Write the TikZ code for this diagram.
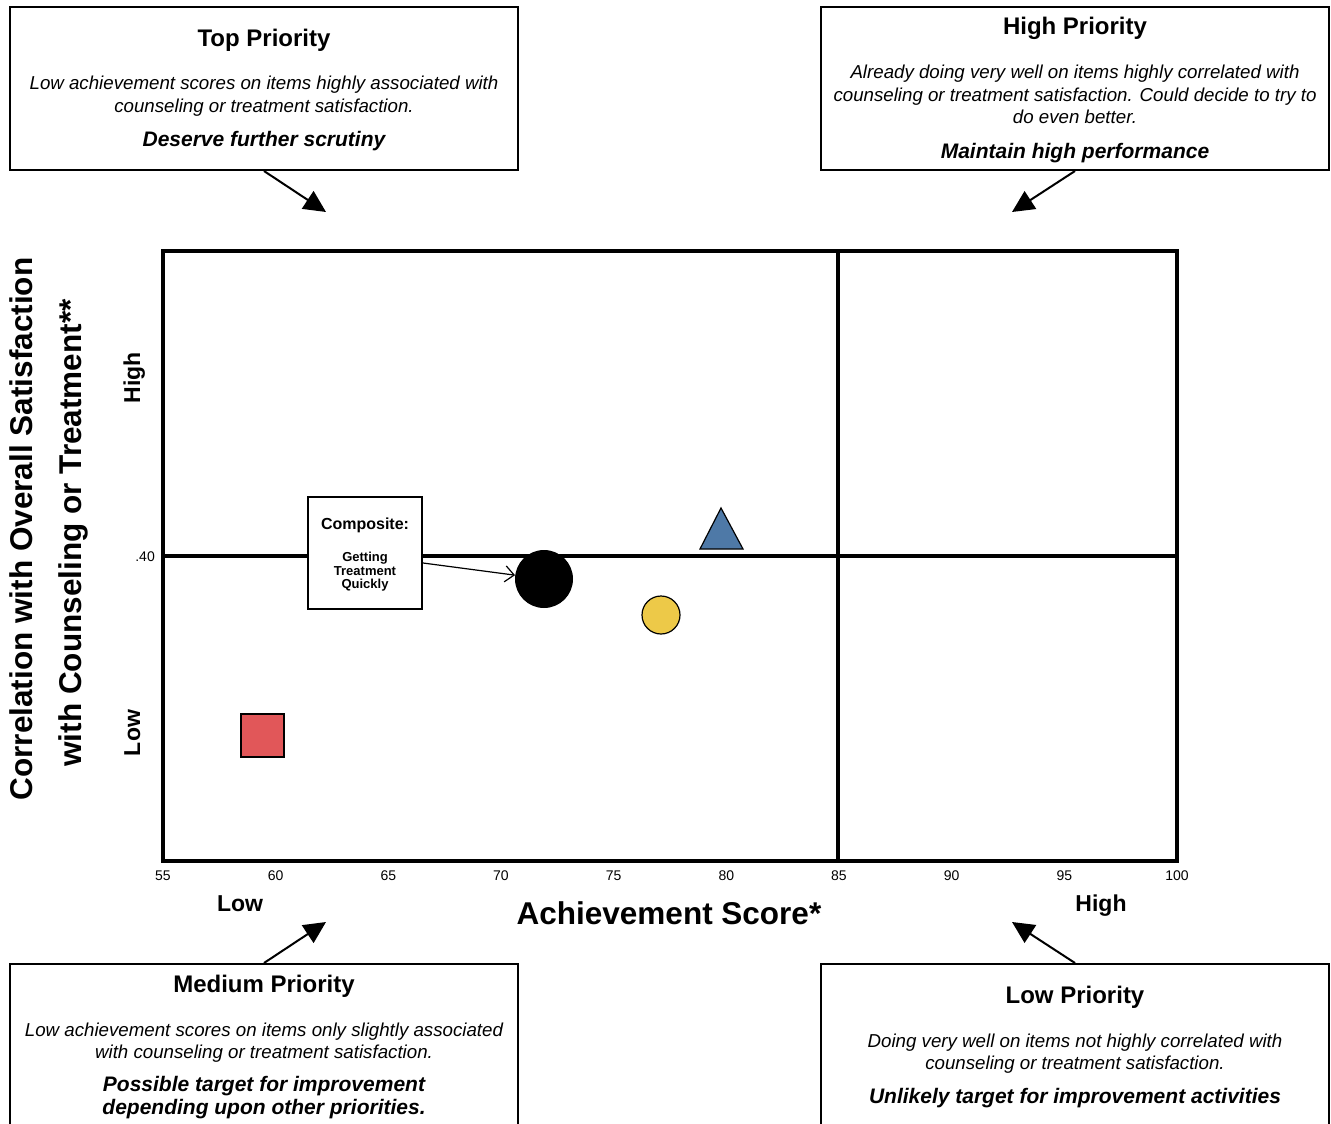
\documentclass[tikz,border=0pt]{standalone}
\usepackage{fontspec}
\setmainfont{Liberation Sans}
\usetikzlibrary{arrows.meta}
\definecolor{triblue}{HTML}{4E79A7}
\definecolor{circyellow}{HTML}{EDC948}
\definecolor{sqred}{HTML}{E15759}
\begin{document}
\begin{tikzpicture}[x=1pt,y=-1pt,
  prbox/.style={draw, line width=2pt, fill=white, minimum width=508pt, inner sep=0pt},
  ttl/.style={font=\bfseries\fontsize{24}{28}\selectfont, anchor=base, inner sep=0pt},
  desc/.style={font=\itshape\fontsize{18.7}{22}\selectfont, anchor=base, inner sep=0pt},
  act/.style={font=\bfseries\itshape\fontsize{21}{24}\selectfont, anchor=base, inner sep=0pt},
  bigarrow/.style={line width=2pt, -{Triangle[length=22pt,width=21pt]}},
  tick/.style={font=\fontsize{14}{16}\selectfont, anchor=base, inner sep=0pt},
  axlab/.style={font=\bfseries\fontsize{23}{27}\selectfont, anchor=base, inner sep=0pt},
  axtitle/.style={font=\bfseries\fontsize{31.5}{36}\selectfont, anchor=base, inner sep=0pt},
  plotline/.style={line width=3.5pt},
  marker/.style={draw, line width=1.2pt, inner sep=0pt}
]
\useasboundingbox (0,0) rectangle (1331,1124);
\clip (0,0) rectangle (1331,1124);

% ---------- top-left box ----------
\node[prbox, minimum height=163pt] (tlbox) at (264,88.5) {};
\node[ttl] (tlt) at (264,47) {Top Priority};
\node[desc] (tld1) at (264,89) {Low achievement scores on items highly associated with};
\node[desc] (tld2) at (264,112) {counseling or treatment satisfaction.};
\node[act] (tla) at (264,146) {Deserve further scrutiny};
\coordinate (tltip) at (326,212);
\draw[bigarrow] (tlbox.south) -- (tltip);

% ---------- top-right box ----------
\node[prbox, minimum height=163pt] (trbox) at (1075,88.5) {};
\node[ttl] (trt) at (1075,35) {High Priority};
\node[desc] (trd1) at (1075,79) {Already doing very well on items highly correlated with};
\node[desc] (trd2) at (1075,101) {counseling or treatment satisfaction. Could decide to try to};
\node[desc] (trd3) at (1075,123) {do even better.};
\node[act] (tra) at (1075,158) {Maintain high performance};
\coordinate (trtip) at (1012,212);
\draw[bigarrow] (trbox.south) -- (trtip);

% ---------- bottom-left box ----------
\node[prbox, minimum height=172pt] (blbox) at (264,1050) {};
\node[ttl] (blt) at (264,992) {Medium Priority};
\node[desc] (bld1) at (264,1036) {Low achievement scores on items only slightly associated};
\node[desc] (bld2) at (264,1058) {with counseling or treatment satisfaction.};
\node[act] (bla1) at (264,1091) {Possible target for improvement};
\node[act] (bla2) at (264,1114) {depending upon other priorities.};
\coordinate (bltip) at (326,922);
\draw[bigarrow] (blbox.north) -- (bltip);

% ---------- bottom-right box ----------
\node[prbox, minimum height=172pt] (brbox) at (1075,1050) {};
\node[ttl] (brt) at (1075,1003) {Low Priority};
\node[desc] (brd1) at (1075,1047) {Doing very well on items not highly correlated with};
\node[desc] (brd2) at (1075,1069) {counseling or treatment satisfaction.};
\node[act] (bra) at (1075,1103) {Unlikely target for improvement activities};
\coordinate (brtip) at (1012,922);
\draw[bigarrow] (brbox.north) -- (brtip);

% ---------- plot ----------
\node[draw, plotline, minimum width=1014pt, minimum height=610pt, inner sep=0pt] (plot) at (670,556) {};
\coordinate (vtop) at (838,251);
\coordinate (vbot) at (838,861);
\draw[plotline] (vtop) -- (vbot);
\draw[plotline] (plot.west) -- (plot.east);

\foreach \v in {55,60,...,100} {
  \pgfmathsetmacro{\xx}{163+(\v-55)*22.533}
  \node[tick] (tick\v) at (\xx,880) {\v};
}
\node[tick, anchor=base east] (ytick) at (155,561) {.40};

\node[axlab] (xlow) at (240,911) {Low};
\node[axlab] (xhigh) at (1101,911) {High};
\node[axtitle] (xtitle) at (669,924) {Achievement Score*};

\node[axlab, rotate=90] (yhigh) at (140,378) {High};
\node[axlab, rotate=90] (ylow) at (140,733) {Low};
\node[axtitle, rotate=90] (ytitle1) at (32,529) {Correlation with Overall Satisfaction};
\node[axtitle, rotate=90] (ytitle2) at (81,533) {with Counseling or Treatment**};

% ---------- markers ----------
\node[circle, fill=black, minimum size=58pt, inner sep=0pt] (composite) at (544,579) {};
\node[marker, circle, fill=circyellow, minimum size=38pt] (ydot) at (661,615) {};
\node[marker, fill=sqred, minimum size=43pt] (rsq) at (262.5,735.5) {};
\draw[line width=1.2pt, fill=triblue] (721,508) -- (743,549) -- (700,549) -- cycle;

% ---------- composite callout ----------
\node[draw, line width=2pt, fill=white, minimum width=114pt, minimum height=112pt, inner sep=0pt] (compbox) at (365,553) {};
\node[font=\bfseries\fontsize{16}{19}\selectfont, anchor=base, inner sep=0pt] (comptitle) at (365,529) {Composite:};
\node[font=\bfseries\fontsize{13}{15}\selectfont, anchor=base, inner sep=0pt] (compl1) at (365,561) {Getting};
\node[font=\bfseries\fontsize{13}{15}\selectfont, anchor=base, inner sep=0pt] (compl2) at (365,575) {Treatment};
\node[font=\bfseries\fontsize{13}{15}\selectfont, anchor=base, inner sep=0pt] (compl3) at (365,588) {Quickly};
\draw[line width=1.2pt, -{Straight Barb[length=9pt,width=16pt]}] ([yshift=-10pt]compbox.east) -- (composite);
\end{tikzpicture}
\end{document}
